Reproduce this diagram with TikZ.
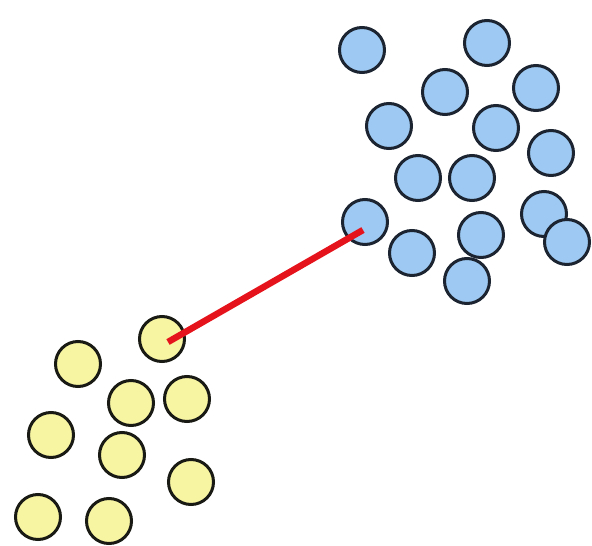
\documentclass[tikz,border=0pt]{standalone}
\definecolor{bluefill}{HTML}{9DC9F2}
\definecolor{blueedge}{HTML}{1B2430}
\definecolor{yellowfill}{HTML}{F7F4A2}
\definecolor{yellowedge}{HTML}{1A1A14}
\definecolor{linkred}{HTML}{E5141C}
\tikzset{
  bball/.style={circle,draw=blueedge,fill=bluefill,line width=3pt,inner sep=0pt,minimum size=45pt},
  yball/.style={circle,draw=yellowedge,fill=yellowfill,line width=3pt,inner sep=0pt,minimum size=45pt},
  link/.style={draw=linkred,line width=6.5pt}
}
\begin{document}
\begin{tikzpicture}[x=1pt,y=-1pt]
\useasboundingbox (0,0) rectangle (592,546);
% blue cluster
\node[bball] (b1) at (362,50) {};
\node[bball] (b2) at (487,43) {};
\node[bball] (b3) at (445,92) {};
\node[bball] (b4) at (536,88) {};
\node[bball] (b5) at (389,126) {};
\node[bball] (b6) at (496,128) {};
\node[bball] (b7) at (551,153) {};
\node[bball] (b8) at (418,178) {};
\node[bball] (b9) at (472,178) {};
\node[bball] (b10) at (365,222) {};
\node[bball] (b11) at (412,253) {};
\node[bball] (b15) at (467,281) {};
\node[bball] (b12) at (481,235) {};
\node[bball] (b13) at (544,214) {};
\node[bball] (b14) at (567,242) {};
% yellow cluster
\node[yball] (y1) at (162,339) {};
\node[yball] (y2) at (78,364) {};
\node[yball] (y3) at (131,403) {};
\node[yball] (y4) at (187,399) {};
\node[yball] (y5) at (51,435) {};
\node[yball] (y6) at (122,455) {};
\node[yball] (y7) at (191,482) {};
\node[yball] (y8) at (38,517) {};
\node[yball] (y9) at (109,521) {};
% link
\coordinate (lb) at ([xshift=-2pt,yshift=-8pt]b10.center);
\coordinate (ly) at ([xshift=6pt,yshift=-3pt]y1.center);
\draw[link] (lb) -- (ly);
\end{tikzpicture}
\end{document}
